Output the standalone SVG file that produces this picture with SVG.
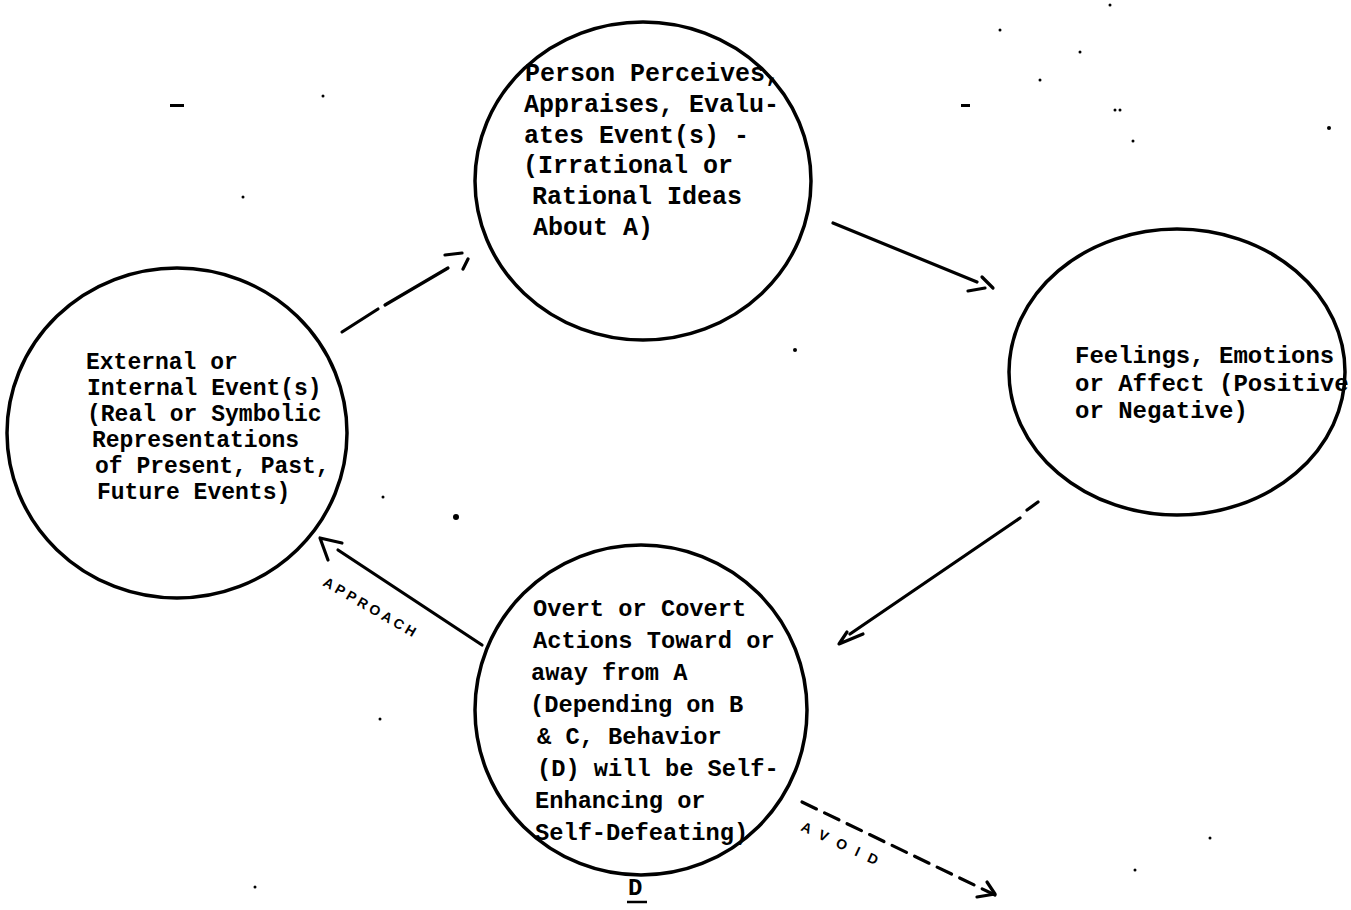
<svg xmlns="http://www.w3.org/2000/svg" width="1351" height="910" viewBox="0 0 1351 910">
<style>
.node{fill:none;stroke:#000;stroke-width:3.5}
.t{font-family:"Liberation Mono","Courier New",monospace;font-weight:bold;fill:#000}
.ln{fill:none;stroke:#000;stroke-width:3.2;stroke-linecap:round;stroke-linejoin:round}
.hand{font-family:"Liberation Sans",Arial,sans-serif;font-weight:bold;fill:#000;font-size:14px}
.speck{fill:#000}
</style>
<rect width="1351" height="910" fill="#fff"/>
<g id="node-A">
<ellipse class="node" cx="177" cy="433" rx="170" ry="165"/>
<text class="t" font-size="23">
<tspan x="86" y="369">External or</tspan>
<tspan x="87" y="395">Internal Event(s)</tspan>
<tspan x="87" y="421">(Real or Symbolic</tspan>
<tspan x="92" y="447">Representations</tspan>
<tspan x="95" y="473">of Present, Past,</tspan>
<tspan x="97" y="499">Future Events)</tspan>
</text>
</g>
<g id="node-B">
<ellipse class="node" cx="643" cy="181" rx="168" ry="159"/>
<text class="t" font-size="25">
<tspan x="525" y="81">Person Perceives,</tspan>
<tspan x="524" y="112">Appraises, Evalu-</tspan>
<tspan x="524" y="143">ates Event(s) -</tspan>
<tspan x="523" y="173">(Irrational or</tspan>
<tspan x="532" y="204">Rational Ideas</tspan>
<tspan x="533" y="235">About A)</tspan>
</text>
</g>
<g id="node-C">
<ellipse class="node" cx="1177" cy="372" rx="168" ry="143"/>
<text class="t" font-size="24">
<tspan x="1075" y="363">Feelings, Emotions</tspan>
<tspan x="1075" y="390.5">or Affect (Positive</tspan>
<tspan x="1075" y="418">or Negative)</tspan>
</text>
</g>
<g id="node-D">
<ellipse class="node" cx="641" cy="710" rx="166" ry="165"/>
<text class="t" font-size="23.7">
<tspan x="533" y="616">Overt or Covert</tspan>
<tspan x="533" y="648">Actions Toward or</tspan>
<tspan x="531" y="680">away from A</tspan>
<tspan x="530" y="712">(Depending on B</tspan>
<tspan x="537" y="744">&amp; C, Behavior</tspan>
<tspan x="537" y="776">(D) will be Self-</tspan>
<tspan x="535" y="808">Enhancing or</tspan>
<tspan x="535" y="840">Self-Defeating)</tspan>
</text>
<text class="t" font-size="24" x="628" y="895">D</text>
<line x1="627" y1="902" x2="647" y2="902" stroke="#000" stroke-width="2.5"/>
</g>
<g id="connectors">
<path class="ln" d="M342,332 L378,309"/>
<path class="ln" d="M385,305 L448,268"/>
<path class="ln" d="M445,255 L462,253 M463,269 L468,259"/>
<path class="ln" d="M833,223 L977,282"/>
<path class="ln" d="M982,277 L993,288 M968,291 L985,288"/>
<path class="ln" d="M1027,510 L1038,502"/>
<path class="ln" d="M1020,518 L850,634"/>
<path class="ln" d="M847,632 L839,644 L863,634"/>
<path class="ln" d="M482,645 L338,550"/>
<path class="ln" d="M342,543 L320,538 L328,560"/>
<text class="hand" transform="translate(322,585) rotate(30)" letter-spacing="3.5">APPROACH</text>
<path class="ln" d="M802,802 L995,895" stroke-dasharray="16,9" stroke-width="2.8"/>
<path class="ln" d="M977,897 L995,894 L987,882"/>
<text class="hand" transform="translate(800,830) rotate(25)" letter-spacing="10">AVOID</text>
</g>
<g id="specks">
<rect class="speck" x="170" y="104" width="14" height="3"/>
<rect class="speck" x="961" y="104" width="9" height="3"/>
<circle class="speck" cx="456" cy="517" r="3"/>
<circle class="speck" cx="795" cy="350" r="2"/>
<circle class="speck" cx="243" cy="197" r="1.5"/>
<circle class="speck" cx="323" cy="96" r="1.5"/>
<circle class="speck" cx="1329" cy="128" r="2"/>
<circle class="speck" cx="1115" cy="110" r="1.5"/>
<circle class="speck" cx="1120" cy="110" r="1.5"/>
<circle class="speck" cx="1040" cy="80" r="1.5"/>
<circle class="speck" cx="1133" cy="141" r="1.5"/>
<circle class="speck" cx="1110" cy="5" r="1.5"/>
<circle class="speck" cx="1080" cy="52" r="1.5"/>
<circle class="speck" cx="383" cy="497" r="1.5"/>
<circle class="speck" cx="1000" cy="30" r="1.5"/>
<circle class="speck" cx="1210" cy="838" r="1.5"/>
<circle class="speck" cx="1135" cy="870" r="1.5"/>
<circle class="speck" cx="255" cy="887" r="1.5"/>
<circle class="speck" cx="380" cy="719" r="1.5"/>
</g>
</svg>
